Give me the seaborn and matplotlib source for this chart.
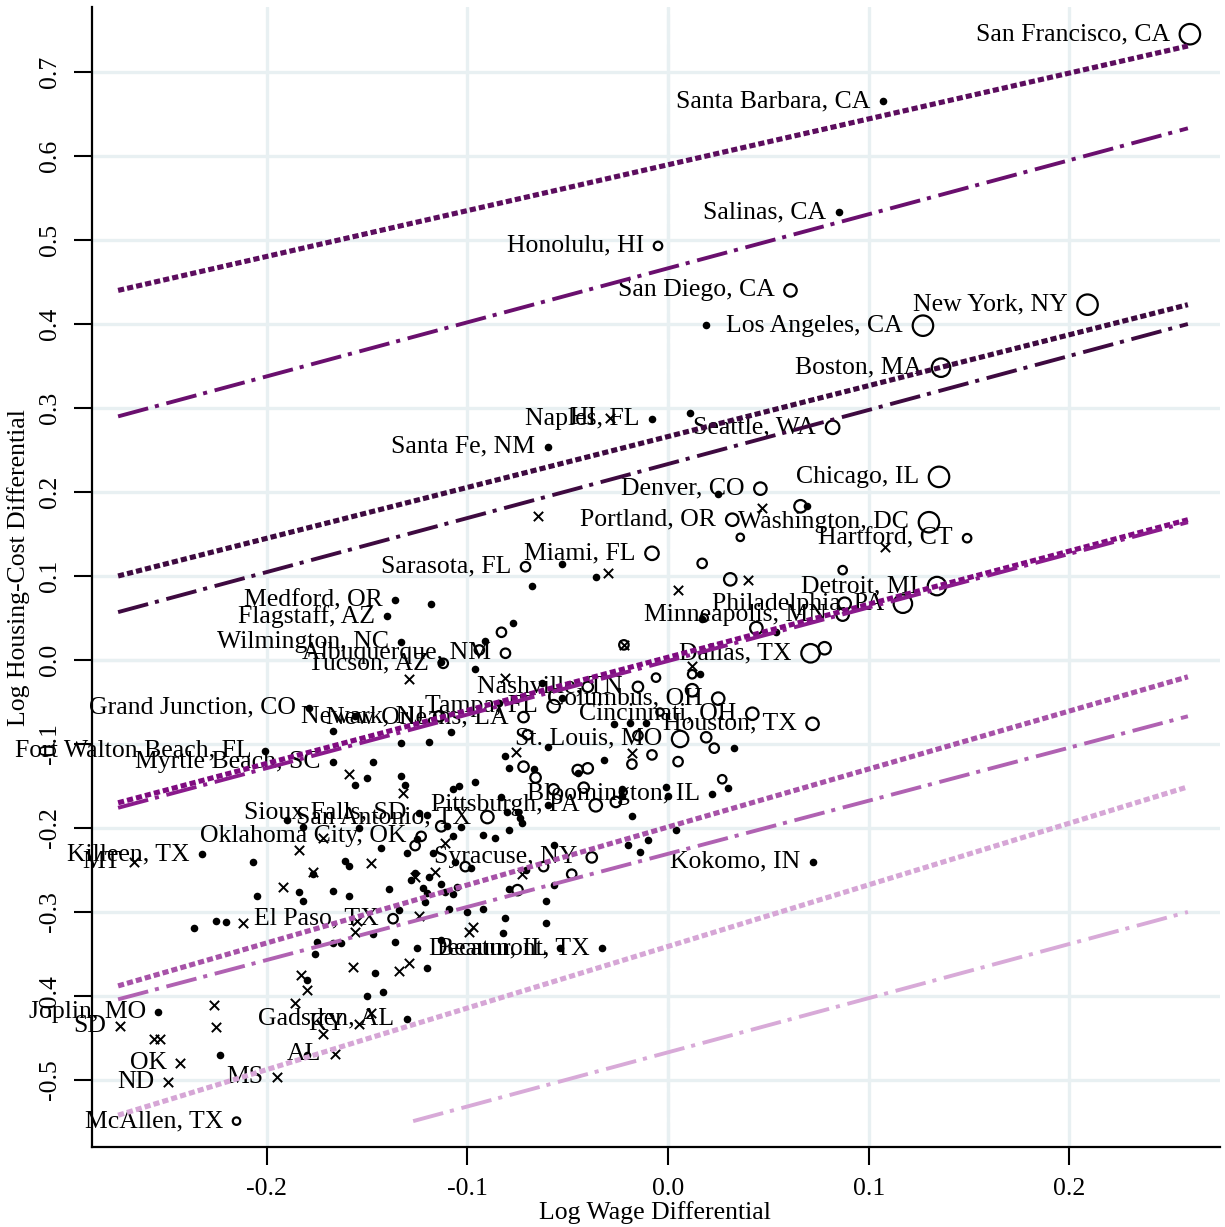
import numpy as np
import pandas as pd
import matplotlib
matplotlib.use("Agg")
import matplotlib.pyplot as plt
import seaborn as sns

# ---------------- data ----------------
# labelled metros drawn as small filled dots
dotlab_names = ["Santa Barbara, CA", "Salinas, CA", "Naples, FL", "Santa Fe, NM", "Medford, OR",
                "Flagstaff, AZ", "Wilmington, NC", "Grand Junction, CO", "Fort Walton Beach, FL",
                "Myrtle Beach, SC", "Sioux Falls, SD", "Killeen, TX", "Bloomington, IL", "Kokomo, IN",
                "Decatur, IL", "Beaumont, TX", "Joplin, MO", "Gadsden, AL"]
dotlab_x = [0.107, 0.085, -0.008, -0.060, -0.136, -0.140, -0.133, -0.179, -0.201,
            -0.167, -0.124, -0.232, 0.022, 0.072, -0.054, -0.033, -0.254, -0.130]
dotlab_y = [0.665, 0.533, 0.287, 0.254, 0.071, 0.052, 0.021, -0.057, -0.108,
            -0.121, -0.182, -0.231, -0.160, -0.240, -0.343, -0.343, -0.419, -0.427]

# unlabelled small metros (filled dots)
dot_x = [0.019, 0.011, 0.025, 0.069, -0.053, -0.036, -0.068, -0.118, -0.077, -0.091,
         -0.113, -0.096, -0.063, -0.053, -0.084, 0.017, 0.054, 0.016, -0.156, -0.167,
         -0.133, -0.119, -0.108, -0.081, -0.147, -0.150, -0.156, -0.133, -0.131, -0.107,
         -0.104, -0.096, -0.079, -0.067, -0.083, -0.060, -0.032, -0.027, -0.019, -0.011,
         0.033, -0.045, -0.023, -0.023, -0.001, 0.000, 0.030, -0.060, -0.018, -0.080,
         -0.075, -0.074, -0.073, -0.079, -0.092, -0.086, -0.103, -0.110, -0.120, -0.125,
         -0.190, -0.182, -0.154, -0.143, -0.207, -0.161, -0.159, -0.177, -0.130, -0.117,
         -0.107, -0.057, -0.020, -0.010, -0.014, 0.004, -0.106, -0.098, -0.126, -0.128,
         -0.119, -0.113, -0.122, -0.120, -0.111, -0.107, -0.105, -0.071, -0.057, -0.079,
         -0.061, -0.121, -0.109, -0.100, -0.092, -0.081, -0.061, -0.082, -0.113, -0.125,
         -0.120, -0.205, -0.184, -0.182, -0.167, -0.159, -0.139, -0.134, -0.236, -0.225,
         -0.220, -0.147, -0.175, -0.176, -0.167, -0.163, -0.136, -0.146, -0.180, -0.150,
         -0.142, -0.223, -0.180]
dot_y = [0.399, 0.294, 0.198, 0.183, 0.114, 0.099, 0.088, 0.067, 0.044, 0.023,
         -0.002, -0.011, -0.027, -0.045, -0.051, 0.049, 0.033, -0.017, -0.067, -0.085,
         -0.099, -0.098, -0.086, -0.114, -0.121, -0.140, -0.149, -0.138, -0.149, -0.154,
         -0.150, -0.145, -0.129, -0.130, -0.163, -0.104, -0.119, -0.076, -0.075, -0.075,
         -0.105, -0.135, -0.154, -0.162, -0.151, -0.162, -0.152, -0.173, -0.186, -0.181,
         -0.181, -0.188, -0.194, -0.202, -0.208, -0.212, -0.199, -0.198, -0.185, -0.213,
         -0.190, -0.199, -0.200, -0.224, -0.240, -0.239, -0.245, -0.255, -0.230, -0.230,
         -0.210, -0.220, -0.220, -0.214, -0.229, -0.202, -0.240, -0.248, -0.254, -0.262,
         -0.258, -0.267, -0.271, -0.277, -0.276, -0.279, -0.270, -0.250, -0.268, -0.273,
         -0.287, -0.288, -0.296, -0.300, -0.296, -0.307, -0.313, -0.325, -0.333, -0.343,
         -0.367, -0.281, -0.276, -0.287, -0.275, -0.281, -0.273, -0.298, -0.319, -0.311,
         -0.312, -0.326, -0.336, -0.350, -0.337, -0.337, -0.336, -0.373, -0.381, -0.400,
         -0.395, -0.470, -0.470]

# rural state remainders (x markers)
xlab_names = ["HI", "MT", "SD", "OK", "ND", "MS", "AL", "KY"]
xlab_x = [-0.029, -0.266, -0.273, -0.243, -0.249, -0.195, -0.166, -0.154]
xlab_y = [0.288, -0.240, -0.436, -0.480, -0.502, -0.496, -0.469, -0.433]

xm_x = [0.108, 0.047, -0.065, -0.030, 0.040, 0.005, -0.022, -0.129, -0.081, 0.012,
        -0.076, -0.018, -0.159, -0.132, -0.172, -0.184, -0.111, -0.148, -0.177, -0.192,
        -0.126, -0.116, -0.073, -0.212, -0.155, -0.156, -0.124, -0.097, -0.099, -0.157,
        -0.129, -0.134, -0.183, -0.180, -0.186, -0.226, -0.225, -0.253, -0.256, -0.148,
        -0.172]
xm_y = [0.135, 0.181, 0.171, 0.104, 0.095, 0.083, 0.018, -0.023, -0.021, -0.007,
        -0.110, -0.111, -0.136, -0.158, -0.212, -0.226, -0.218, -0.242, -0.252, -0.270,
        -0.258, -0.252, -0.255, -0.313, -0.311, -0.324, -0.305, -0.318, -0.324, -0.365,
        -0.361, -0.370, -0.375, -0.393, -0.408, -0.411, -0.437, -0.451, -0.451, -0.420,
        -0.445]

# large metros (hollow circles, diameter ~ population)
circlab_names = ["San Francisco, CA", "Honolulu, HI", "San Diego, CA", "New York, NY",
                 "Los Angeles, CA", "Boston, MA", "Seattle, WA", "Chicago, IL", "Denver, CO",
                 "Portland, OR", "Washington, DC", "Hartford, CT", "Miami, FL", "Sarasota, FL",
                 "Detroit, MI", "Philadelphia, PA", "Minneapolis, MN", "Dallas, TX",
                 "Albuquerque, NM", "Tucson, AZ", "Nashville, TN", "Columbus, OH", "Tampa, FL",
                 "New Orleans, LA", "Newark, NJ", "Cincinnati, OH", "Houston, TX",
                 "St. Louis, MO", "Pittsburgh, PA", "San Antonio, TX", "Oklahoma City, OK",
                 "Syracuse, NY", "El Paso, TX", "McAllen, TX"]
circlab_x = [0.260, -0.005, 0.061, 0.209, 0.127, 0.136, 0.082, 0.135, 0.046, 0.032,
             0.130, 0.149, -0.008, -0.071, 0.134, 0.117, 0.087, 0.071, -0.081, -0.112,
             -0.015, 0.025, -0.057, -0.072, -0.114, 0.042, 0.072, 0.006, -0.036, -0.090,
             -0.123, -0.038, -0.137, -0.215]
circlab_y = [0.745, 0.493, 0.440, 0.423, 0.398, 0.348, 0.277, 0.218, 0.204, 0.167,
             0.164, 0.145, 0.127, 0.111, 0.088, 0.067, 0.054, 0.008, 0.008, -0.004,
             -0.032, -0.046, -0.055, -0.068, -0.067, -0.064, -0.076, -0.094, -0.173, -0.187,
             -0.210, -0.235, -0.308, -0.549]
circlab_pop = [22, 10, 14, 22, 22, 20, 15, 22, 14, 14,
               22, 10, 15, 11, 20, 20, 14, 20, 11, 11,
               12, 14, 14, 12, 12, 14, 14, 18, 14, 14,
               11, 12, 11, 9]

circ_x = [0.066, 0.036, 0.017, 0.087, 0.031, 0.088, 0.018, 0.044, 0.078, -0.083,
          -0.094, -0.022, -0.006, -0.040, 0.012, 0.012, -0.004, -0.070, -0.015, 0.019,
          0.023, -0.008, -0.018, 0.005, -0.072, -0.066, -0.045, -0.040, -0.042, -0.057,
          -0.026, 0.027, -0.113, -0.126, -0.101, -0.062, -0.048, -0.075]
circ_y = [0.183, 0.146, 0.115, 0.107, 0.096, 0.067, 0.050, 0.038, 0.014, 0.033,
          0.012, 0.018, -0.021, -0.032, -0.017, -0.036, -0.062, -0.089, -0.090, -0.092,
          -0.105, -0.113, -0.124, -0.121, -0.127, -0.140, -0.131, -0.129, -0.152, -0.154,
          -0.169, -0.142, -0.198, -0.221, -0.246, -0.246, -0.255, -0.274]
circ_pop = [14, 9, 11, 10, 14, 14, 9, 14, 14, 11,
            11, 11, 10, 12, 10, 14, 9, 11, 11, 12,
            11, 11, 11, 11, 12, 12, 12, 12, 12, 12,
            12, 10, 12, 11, 11, 11, 11, 12]

# indifference lines (pairs: dotted / dash-dot)
line_x0 = [-0.274, -0.274, -0.274, -0.274, -0.274, -0.274, -0.274, -0.274, -0.274, -0.127]
line_x1 = [0.259, 0.259, 0.259, 0.259, 0.259, 0.259, 0.259, 0.259, 0.259, 0.259]
line_y0 = [0.440, 0.290, 0.100, 0.057, -0.170, -0.176, -0.388, -0.404, -0.542, -0.549]
line_y1 = [0.731, 0.633, 0.423, 0.400, 0.167, 0.164, -0.020, -0.067, -0.151, -0.300]

xtick_vals = [-0.2, -0.1, 0.0, 0.1, 0.2]
xtick_labels = ["-0.2", "-0.1", "0.0", "0.1", "0.2"]
ytick_vals = [-0.5, -0.4, -0.3, -0.2, -0.1, 0.0, 0.1, 0.2, 0.3, 0.4, 0.5, 0.6, 0.7]
ytick_labels = ["-0.5", "-0.4", "-0.3", "-0.2", "-0.1", "0.0", "0.1", "0.2", "0.3",
                "0.4", "0.5", "0.6", "0.7"]

# ---------------- style ----------------
sns.set_theme(style="white")
plt.rcParams["font.family"] = ["Liberation Serif", "DejaVu Serif"]
plt.rcParams["axes.unicode_minus"] = False
FS = 18.5

line_colors = ["#5c0d5e", "#6a0f6e", "#3e0a40", "#3e0a40", "#7f0b80",
               "#8a1a8c", "#a752a8", "#b062b2", "#d6a6d6", "#d8aad8"]
DOT = (0, (1.2, 0.6))
DASHDOT = (0, (8.0, 1.8, 1.05, 2.0))
line_styles = [DOT, DASHDOT] * 5
line_widths = [3.7, 2.8] * 5

fig = plt.figure(figsize=(12.25, 12.27), dpi=100)
W, H = 1225, 1227
ax = fig.add_axes([92 / W, 1 - 1147 / H, (1220 - 92) / W, (1147 - 7) / H])

# grid & reference lines
ax.set_xlim(-0.287, 0.275)
ax.set_ylim(-0.5798, 0.7774)
ax.set_xticks(xtick_vals)
ax.set_xticklabels(xtick_labels)
ax.set_yticks(ytick_vals)
ax.set_yticklabels(ytick_labels)
ax.grid(True, color="#e8f0f2", linewidth=2.4, zorder=0)
ax.set_axisbelow(True)
ax.axhline(0, color="#bdbdbd", linewidth=2.2, zorder=0.5)
ax.axvline(0, color="#c3c3c3", linewidth=2.2, linestyle=(0, (8.2, 1.6)), zorder=0.5)

# points
all_dot_x = dotlab_x + dot_x
all_dot_y = dotlab_y + dot_y
sns.scatterplot(x=all_dot_x, y=all_dot_y, ax=ax, marker="o", s=30, color="black",
                edgecolor="black", linewidth=0, legend=False, zorder=2)

all_xm_x = xlab_x + xm_x
all_xm_y = xlab_y + xm_y
sns.scatterplot(x=all_xm_x, y=all_xm_y, ax=ax, marker="x", s=45, color="black",
                linewidth=1.4, legend=False, zorder=2)

all_c_x = circlab_x + circ_x
all_c_y = circlab_y + circ_y
all_c_d = np.array(circlab_pop + circ_pop, dtype=float)
sizes = (all_c_d * 0.72 - 1.1) ** 2
sns.scatterplot(x=all_c_x, y=all_c_y, ax=ax, marker="o", s=sizes, color="black",
                edgecolor="black", linewidth=1.6, legend=False, zorder=2)
ax.collections[-1].set_facecolor("none")
ax.collections[-1].set_edgecolor("black")

# labels (left of marker)
def put_labels(names, xs, ys, diam):
    for n, x, y, d in zip(names, xs, ys, diam):
        ax.annotate(n, (x, y), xytext=(-(d / 2 + 9) * 0.72, 0), textcoords="offset points",
                    ha="right", va="center", fontsize=FS, color="black", zorder=2.5)

put_labels(dotlab_names, dotlab_x, dotlab_y, [7] * len(dotlab_names))
put_labels(xlab_names, xlab_x, xlab_y, [9] * len(xlab_names))
put_labels(circlab_names, circlab_x, circlab_y, circlab_pop)

# lines
for i in range(len(line_x0)):
    sns.lineplot(x=[line_x0[i], line_x1[i]], y=[line_y0[i], line_y1[i]], ax=ax,
                 color=line_colors[i], linewidth=line_widths[i], linestyle=line_styles[i],
                 estimator=None, sort=False, legend=False, zorder=4)

# axes styling
for s in ["top", "right"]:
    ax.spines[s].set_visible(False)
for s in ["left", "bottom"]:
    ax.spines[s].set_color("black")
    ax.spines[s].set_linewidth(1.6)
ax.tick_params(axis="both", direction="out", length=13, width=1.5, color="black",
               pad=9, labelsize=FS, labelcolor="black", bottom=True, left=True)
for lab in ax.get_yticklabels():
    lab.set_rotation(90)
    lab.set_va("center")
    lab.set_ha("right")

ax.set_xlabel("Log Wage Differential", fontsize=FS, color="black")
ax.set_ylabel("Log Housing-Cost Differential", fontsize=FS, color="black")
ax.xaxis.set_label_coords(0.499, -0.047)
ax.yaxis.set_label_coords(-0.055, 0.508)

fig.savefig("out.png", dpi=100, facecolor="white")
